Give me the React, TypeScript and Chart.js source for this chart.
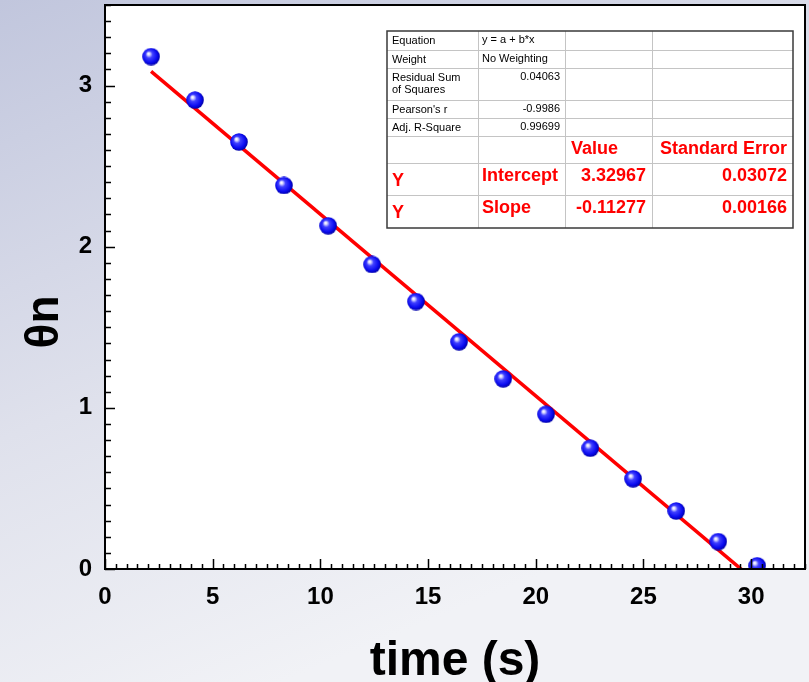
import React, { useEffect, useRef } from 'react';
import { Chart, registerables } from 'chart.js';

Chart.register(...registerables);

// ---- data ----
const times = [2.14, 4.18, 6.22, 8.31, 10.36, 12.4, 14.44, 16.44, 18.49, 20.48, 22.53, 24.52, 26.52, 28.47, 30.28];
const theta = [3.18, 2.91, 2.65, 2.38, 2.13, 1.89, 1.66, 1.41, 1.18, 0.96, 0.75, 0.56, 0.36, 0.17, 0.02];
const fitIntercept = 3.32967;
const fitSlope = -0.11277;

const xMin = 0;
const xMax = 32.5;
const xMajor = 5;
const xMinor = 0.5;
const yMin = 0;
const yMax = 3.5;
const yMajor = 1;
const yMinor = 0.1;

const xAxisTitle = 'time (s)';
const yAxisTitle = 'θn';

const statLabels = ['Equation', 'Weight', 'Residual Sum\nof Squares', "Pearson's r", 'Adj. R-Square'];
const statValues = ['y = a + b*x', 'No Weighting', '0.04063', '-0.9986', '0.99699'];
const paramHeaders = ['Value', 'Standard Error'];
const paramRows = [
  ['Y', 'Intercept', '3.32967', '0.03072'],
  ['Y', 'Slope', '-0.11277', '0.00166'],
];

const FONT = '"Liberation Sans", Arial, Helvetica, sans-serif';

function makeSphere(): HTMLCanvasElement {
  const s = 18;
  const c = document.createElement('canvas');
  c.width = s;
  c.height = s;
  const g = c.getContext('2d')!;
  const grad = g.createRadialGradient(6.3, 6.0, 0.3, 8.5, 8.5, 9.5);
  grad.addColorStop(0, '#ffffff');
  grad.addColorStop(0.12, '#d8d8ff');
  grad.addColorStop(0.35, '#4040ff');
  grad.addColorStop(0.75, '#0a0af0');
  grad.addColorStop(1, '#0000a0');
  g.fillStyle = grad;
  g.beginPath();
  g.arc(9, 9, 8.8, 0, Math.PI * 2);
  g.fill();
  return c;
}

const decorPlugin = {
  id: 'decor',
  beforeDraw(chart: any) {
    const { ctx, width, height, chartArea } = chart;
    ctx.save();
    const grad = ctx.createLinearGradient(0, 0, width * 0.35, height);
    grad.addColorStop(0, '#c1c6dd');
    grad.addColorStop(0.55, '#dfe1ec');
    grad.addColorStop(1, '#f1f2f6');
    ctx.fillStyle = grad;
    ctx.fillRect(0, 0, width, height);
    ctx.fillStyle = '#ffffff';
    ctx.fillRect(chartArea.left, chartArea.top, chartArea.right - chartArea.left, chartArea.bottom - chartArea.top);
    ctx.restore();
  },
  afterDatasetsDraw(chart: any) {
    const { ctx, chartArea } = chart;
    const xs = chart.scales.x;
    const ys = chart.scales.y;
    ctx.save();
    ctx.strokeStyle = '#000000';
    ctx.lineWidth = 1.5;
    ctx.beginPath();
    const nx = Math.round((xMax - xMin) / xMinor);
    for (let i = 0; i <= nx; i++) {
      const v = xMin + i * xMinor;
      const px = Math.round(xs.getPixelForValue(v)) + 0.5;
      const major = Math.abs(v / xMajor - Math.round(v / xMajor)) < 1e-6;
      const len = major ? 10 : 5;
      ctx.moveTo(px, chartArea.bottom);
      ctx.lineTo(px, chartArea.bottom - len);
    }
    const ny = Math.round((yMax - yMin) / yMinor);
    for (let i = 0; i <= ny; i++) {
      const v = yMin + i * yMinor;
      const py = Math.round(ys.getPixelForValue(v)) + 0.5;
      const major = Math.abs(v / yMajor - Math.round(v / yMajor)) < 1e-6;
      const len = major ? 10 : 6;
      ctx.moveTo(chartArea.left, py);
      ctx.lineTo(chartArea.left + len, py);
    }
    ctx.stroke();
    ctx.lineWidth = 2;
    ctx.strokeRect(chartArea.left, chartArea.top, chartArea.right - chartArea.left, chartArea.bottom - chartArea.top);
    ctx.restore();
  },
  afterDraw(chart: any) {
    const { ctx, chartArea } = chart;
    ctx.save();
    // axis titles
    ctx.fillStyle = '#000000';
    ctx.font = `bold 48px ${FONT}`;
    ctx.textAlign = 'center';
    ctx.textBaseline = 'alphabetic';
    ctx.fillText(xAxisTitle, (chartArea.left + chartArea.right) / 2, chart.height - 7);
    ctx.save();
    ctx.translate(58, (chartArea.top + chartArea.bottom) / 2 + 35);
    ctx.rotate(-Math.PI / 2);
    ctx.font = `bold 46px ${FONT}`;
    ctx.fillText(yAxisTitle, 0, 0);
    ctx.restore();

    // fit table
    const cols = [387, 478, 565, 652, 793];
    const rows = [31, 50, 68, 100, 118, 136, 163, 195, 228];
    ctx.fillStyle = '#ffffff';
    ctx.fillRect(cols[0], rows[0], cols[4] - cols[0], rows[8] - rows[0]);
    ctx.strokeStyle = '#c4c4c4';
    ctx.lineWidth = 1;
    ctx.beginPath();
    for (let i = 1; i < rows.length - 1; i++) {
      ctx.moveTo(cols[0], rows[i] + 0.5);
      ctx.lineTo(cols[4], rows[i] + 0.5);
    }
    for (let i = 1; i < cols.length - 1; i++) {
      ctx.moveTo(cols[i] + 0.5, rows[0]);
      ctx.lineTo(cols[i] + 0.5, rows[8]);
    }
    ctx.stroke();
    ctx.strokeStyle = '#3a3a3a';
    ctx.lineWidth = 1.5;
    ctx.strokeRect(cols[0], rows[0], cols[4] - cols[0], rows[8] - rows[0]);

    ctx.fillStyle = '#000000';
    ctx.font = `11px ${FONT}`;
    for (let i = 0; i < statLabels.length; i++) {
      const lines = statLabels[i].split('\n');
      ctx.textAlign = 'left';
      lines.forEach((ln, k) => ctx.fillText(ln, cols[0] + 5, rows[i] + 13 + k * 12));
      const val = statValues[i];
      if (i < 2) {
        ctx.textAlign = 'left';
        ctx.fillText(val, cols[1] + 4, rows[i] + 12);
      } else {
        ctx.textAlign = 'right';
        ctx.fillText(val, cols[2] - 5, rows[i] + 12);
      }
    }

    ctx.fillStyle = '#ff0000';
    ctx.font = `bold 18px ${FONT}`;
    ctx.textAlign = 'left';
    ctx.fillText(paramHeaders[0], cols[2] + 6, rows[5] + 18);
    ctx.textAlign = 'right';
    ctx.fillText(paramHeaders[1], cols[4] - 6, rows[5] + 18);
    paramRows.forEach((r, k) => {
      const top = rows[6 + k];
      ctx.textAlign = 'left';
      ctx.fillText(r[0], cols[0] + 5, top + 23);
      ctx.fillText(r[1], cols[1] + 4, top + 18);
      ctx.textAlign = 'right';
      ctx.fillText(r[2], cols[3] - 6, top + 18);
      ctx.fillText(r[3], cols[4] - 6, top + 18);
    });
    ctx.restore();
  },
};

function zeroPad(scale: any) {
  scale.paddingTop = 0;
  scale.paddingBottom = 0;
  scale.paddingLeft = 0;
  scale.paddingRight = 0;
}

export default function App() {
  const ref = useRef<HTMLCanvasElement | null>(null);

  useEffect(() => {
    document.body.style.margin = '0';
    const canvas = ref.current!;
    const sphere = makeSphere();
    const points = times.map((t, i) => ({ x: t, y: theta[i] }));
    const fitX = [times[0], times[times.length - 1]];
    const fitLine = fitX.map((x) => ({ x, y: fitIntercept + fitSlope * x }));

    const chart = new Chart(canvas, {
      type: 'scatter',
      data: {
        datasets: [
          {
            type: 'line',
            label: 'fit',
            data: fitLine,
            borderColor: '#ff0000',
            borderWidth: 3.5,
            pointRadius: 0,
            showLine: true,
            fill: false,
            clip: 0,
            order: 2,
          } as any,
          {
            label: 'θn',
            data: points,
            pointStyle: sphere as any,
            pointRadius: 9,
            clip: 0,
            order: 1,
          } as any,
        ],
      },
      options: {
        responsive: false,
        animation: false,
        devicePixelRatio: 1,
        layout: { autoPadding: false, padding: { top: 5, right: 4, left: 0, bottom: 0 } },
        plugins: { legend: { display: false }, tooltip: { enabled: false } },
        scales: {
          x: {
            type: 'linear',
            min: xMin,
            max: xMax,
            grid: { display: false, drawTicks: false, tickLength: 0 },
            border: { display: false },
            ticks: {
              stepSize: xMajor,
              includeBounds: false,
              color: '#000000',
              font: { family: FONT, size: 24, weight: 'bold' },
              padding: 14,
              maxRotation: 0,
            },
            afterFit(scale: any) {
              scale.height = 113;
              zeroPad(scale);
            },
          },
          y: {
            type: 'linear',
            min: yMin,
            max: yMax,
            grid: { display: false, drawTicks: false, tickLength: 0 },
            border: { display: false },
            ticks: {
              stepSize: yMajor,
              includeBounds: false,
              color: '#000000',
              font: { family: FONT, size: 24, weight: 'bold' },
              padding: 13,
            },
            afterFit(scale: any) {
              scale.width = 105;
              zeroPad(scale);
            },
          },
        },
      },
      plugins: [decorPlugin],
    });
    return () => chart.destroy();
  }, []);

  return (
    <div style={{ width: 809, height: 682 }}>
      <canvas ref={ref} width={809} height={682} style={{ display: 'block' }} />
    </div>
  );
}
